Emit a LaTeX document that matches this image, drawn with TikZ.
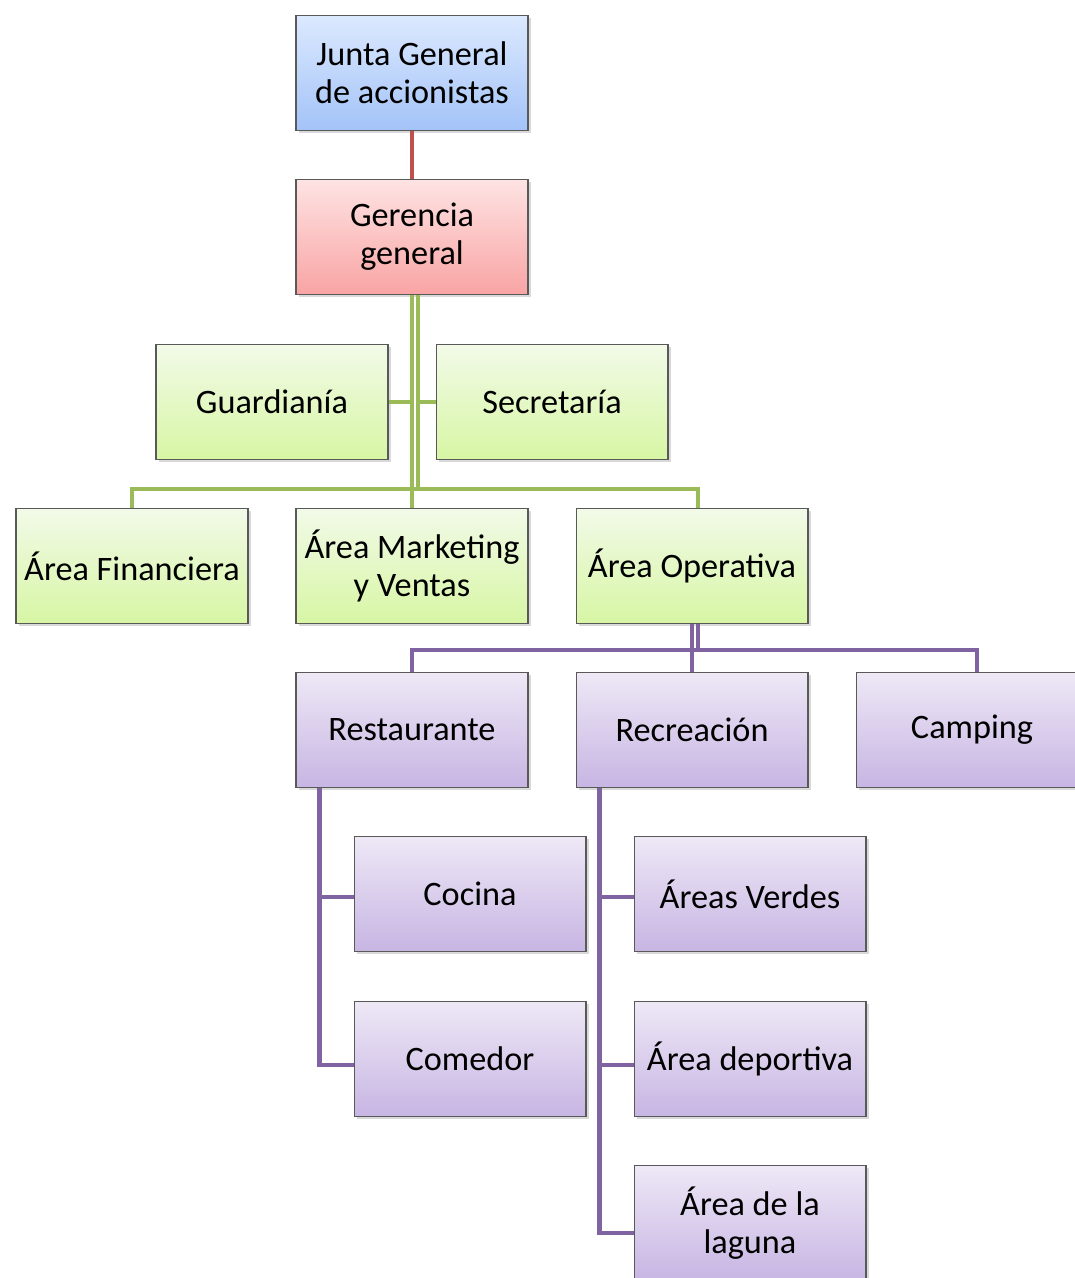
\documentclass[tikz,border=0pt]{standalone}
\usepackage{fontspec}
\setmainfont{Carlito}
\usetikzlibrary{shadows}
\definecolor{lineR}{HTML}{C0504D}
\definecolor{lineG}{HTML}{9BBB59}
\definecolor{lineP}{HTML}{8064A2}
\definecolor{blueT}{HTML}{DCE9FE}
\definecolor{blueB}{HTML}{A3C3F8}
\definecolor{redT}{HTML}{FEE3E3}
\definecolor{redB}{HTML}{F9A4A4}
\definecolor{greenT}{HTML}{F2FAE8}
\definecolor{greenB}{HTML}{D7F6A4}
\definecolor{purpleT}{HTML}{EEE8F6}
\definecolor{purpleB}{HTML}{C7B5E3}
\begin{document}
\begin{tikzpicture}[x=0.02cm,y=0.02cm,
	box/.style={draw=black!65, line width=0.6pt, minimum width=4.64cm, minimum height=2.3cm,
		align=center, font=\fontsize{19.5}{21.5}\selectfont,
		drop shadow={shadow xshift=1.6pt, shadow yshift=-1.6pt, opacity=0.3}},
	bluebox/.style={box, top color=blueT, bottom color=blueB},
	redbox/.style={box, top color=redT, bottom color=redB},
	greenbox/.style={box, top color=greenT, bottom color=greenB},
	purplebox/.style={box, top color=purpleT, bottom color=purpleB},
	conn/.style={line width=2.8pt}]
	\useasboundingbox (0,0) rectangle (1075,-1278);
	\clip (0,0) rectangle (1075,-1278);
	\coordinate (gbar) at (0,-489);
	\coordinate (pbar) at (0,-650);
	\node[bluebox] (JG) at (412,-73) {Junta General\\de accionistas};
	\node[redbox] (GG) at (412,-237) {Gerencia\\general};
	\node[greenbox] (Gu) at (272,-402) {Guardianía};
	\node[greenbox] (Se) at (552,-402) {Secretaría};
	\node[greenbox] (AF) at (132,-566) {Área Financiera};
	\node[greenbox] (AM) at (412,-566) {Área Marketing\\y Ventas};
	\node[greenbox] (AO) at (692,-566) {Área Operativa};
	\node[purplebox] (Re) at (412,-730) {Restaurante};
	\node[purplebox] (Rc) at (692,-730) {Recreación};
	\node[purplebox] (Ca) at (972,-730) {Camping};
	\node[purplebox] (Co) at (470,-894) {Cocina};
	\node[purplebox] (Cm) at (470,-1059) {Comedor};
	\node[purplebox] (AV) at (750,-894) {Áreas Verdes};
	\node[purplebox] (AD) at (750,-1059) {Área deportiva};
	\node[purplebox] (AL) at (750,-1223) {Área de la\\laguna};
	% branch points
	\coordinate (rx) at ([xshift=.48cm]Re.south west);
	\coordinate (cx) at ([xshift=.48cm]Rc.south west);
	\coordinate (co1) at ([yshift=-.06cm]Co.west);
	\coordinate (cm1) at ([yshift=-.12cm]Cm.west);
	\coordinate (av1) at ([yshift=-.06cm]AV.west);
	\coordinate (ad1) at ([yshift=-.12cm]AD.west);
	\coordinate (al1) at ([yshift=-.2cm]AL.west);
	% red
	\draw[conn, lineR] (JG) -- (GG);
	% green
	\draw[conn, lineG] (GG.south) -- (AM.north);
	\draw[conn, lineG] ([xshift=.12cm]GG.south) -- ([xshift=.12cm]GG.south |- gbar);
	\draw[conn, lineG] (Gu.east) -- (GG.south |- Gu.east);
	\draw[conn, lineG] (Se.west) -- ([xshift=.12cm]GG.south |- Se.west);
	\draw[conn, lineG] (AF.north) -- (AF.north |- gbar) -| ([xshift=.12cm]AO.north);
	% purple
	\draw[conn, lineP] (AO.south) -- (Rc.north);
	\draw[conn, lineP] ([xshift=.12cm]AO.south) -- ([xshift=.12cm]AO.south |- pbar);
	\draw[conn, lineP] (Re.north) -- (Re.north |- pbar) -| ([xshift=.1cm]Ca.north);
	\draw[conn, lineP] (rx) |- (cm1);
	\draw[conn, lineP] (co1) -- (rx |- co1);
	\draw[conn, lineP] (cx) |- (al1);
	\draw[conn, lineP] (av1) -- (cx |- av1);
	\draw[conn, lineP] (ad1) -- (cx |- ad1);
\end{tikzpicture}
\end{document}
